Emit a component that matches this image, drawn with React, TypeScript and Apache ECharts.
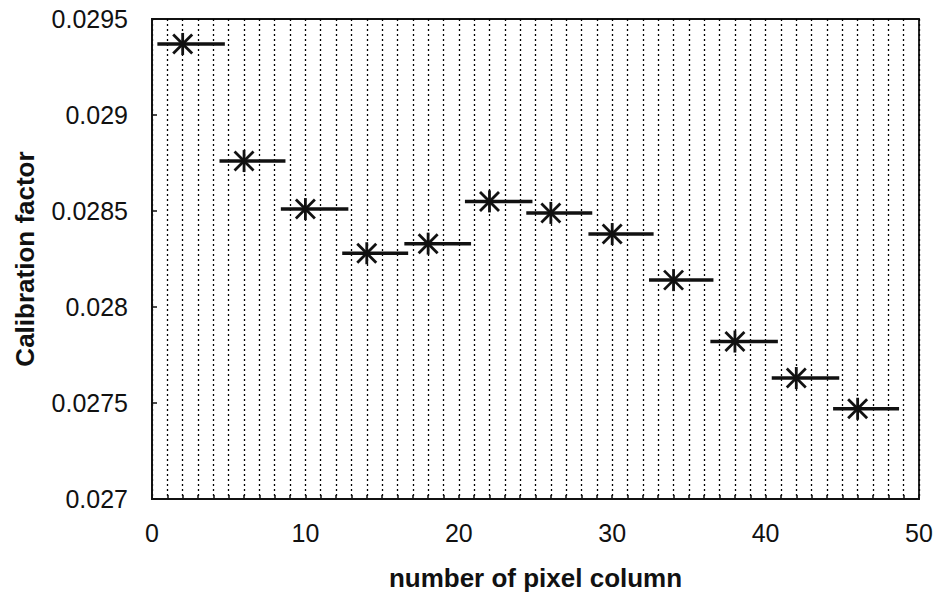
import React, { useEffect, useRef } from "react";
import * as echarts from "echarts";

// Pixel column position of each measurement (star marker)
const columns = [2, 6, 10, 14, 18, 22, 26, 30, 34, 38, 42, 46];
// Calibration factor measured for each group of columns
const factors = [
  0.02937, 0.02876, 0.02851, 0.02828, 0.02833, 0.02855, 0.02849, 0.02838,
  0.02814, 0.02782, 0.02763, 0.02747,
];
// Horizontal extent of the column group covered by each measurement
const groupStart = [0.35, 4.4, 8.4, 12.4, 16.45, 20.4, 24.4, 28.45, 32.4, 36.4, 40.4, 44.4];
const groupEnd = [4.75, 8.7, 12.8, 16.7, 20.8, 24.8, 28.7, 32.7, 36.6, 40.8, 44.8, 48.7];

const xTitle = "number of pixel column";
const yTitle = "Calibration factor";

const INK = "#111";
const FONT = "'Liberation Sans', Arial, Helvetica, sans-serif";

export default function App() {
  const ref = useRef<HTMLDivElement>(null);

  useEffect(() => {
    if (!ref.current) return;
    const chart = echarts.init(ref.current, undefined, { renderer: "svg" });

    const data = columns.map((c, i) => [c, factors[i], groupStart[i], groupEnd[i]]);

    const dotted = { color: "#000", width: 1.3, type: [2, 3] as number[] };

    chart.setOption({
      animation: false,
      backgroundColor: "#fff",
      grid: {
        left: 152,
        right: 20,
        top: 19,
        bottom: 102,
        show: true,
        borderColor: INK,
        borderWidth: 1.8,
        backgroundColor: "transparent",
      },
      xAxis: {
        type: "value",
        min: 0,
        max: 50,
        interval: 10,
        name: xTitle,
        nameLocation: "middle",
        nameGap: 66,
        nameTextStyle: { fontFamily: FONT, fontSize: 26, fontWeight: "bold", color: INK },
        axisLine: { show: true, lineStyle: { color: INK, width: 1.8 } },
        axisTick: { show: true, inside: true, length: 4, lineStyle: { color: INK, width: 1.5 } },
        minorTick: { show: true, splitNumber: 10, length: 4, lineStyle: { color: INK, width: 1.5 } },
        splitLine: { show: true, lineStyle: dotted },
        minorSplitLine: { show: true, lineStyle: dotted },
        axisLabel: { fontFamily: FONT, fontSize: 25, color: INK, margin: 21 },
      },
      yAxis: {
        type: "value",
        min: 0.027,
        max: 0.0295,
        interval: 0.0005,
        name: yTitle,
        nameLocation: "middle",
        nameGap: 114,
        nameRotate: 90,
        nameTextStyle: { fontFamily: FONT, fontSize: 26, fontWeight: "bold", color: INK },
        axisLine: { show: true, lineStyle: { color: INK, width: 1.8 } },
        axisTick: { show: true, inside: true, length: 5, lineStyle: { color: INK, width: 1.5 } },
        splitLine: { show: false },
        axisLabel: {
          fontFamily: FONT,
          fontSize: 25,
          color: INK,
          margin: 24,
          formatter: (v: number) => String(parseFloat(v.toFixed(5))),
        },
      },
      series: [
        {
          type: "custom",
          data,
          encode: { x: [0, 2, 3], y: 1 },
          renderItem: (_params: any, api: any) => {
            const y = api.value(1);
            const c = api.coord([api.value(0), y]);
            const a = api.coord([api.value(2), y]);
            const b = api.coord([api.value(3), y]);
            const star = { stroke: INK, lineWidth: 2.8 };
            return {
              type: "group",
              children: [
                {
                  type: "line",
                  shape: { x1: a[0], y1: a[1], x2: b[0], y2: b[1] },
                  style: { stroke: INK, lineWidth: 3.5 },
                },
                {
                  type: "line",
                  shape: { x1: c[0], y1: c[1] - 11, x2: c[0], y2: c[1] + 11 },
                  style: star,
                },
                {
                  type: "line",
                  shape: { x1: c[0] - 9.5, y1: c[1] - 9.5, x2: c[0] + 9.5, y2: c[1] + 9.5 },
                  style: star,
                },
                {
                  type: "line",
                  shape: { x1: c[0] + 9.5, y1: c[1] - 9.5, x2: c[0] - 9.5, y2: c[1] + 9.5 },
                  style: star,
                },
              ],
            };
          },
        },
      ],
    });

    return () => chart.dispose();
  }, []);

  return (
    <div
      ref={ref}
      style={{ position: "fixed", left: 0, top: 0, width: 939, height: 601, background: "#fff" }}
    />
  );
}
